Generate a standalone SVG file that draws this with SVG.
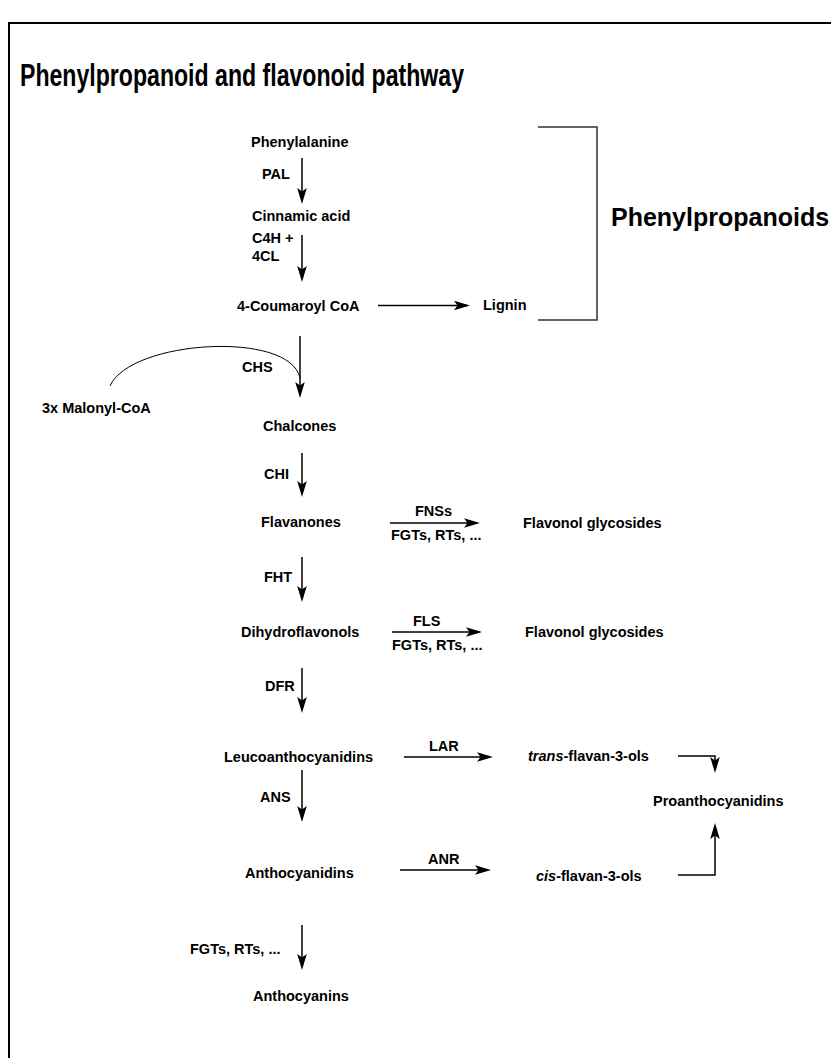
<svg xmlns="http://www.w3.org/2000/svg" width="831" height="1058" viewBox="0 0 831 1058">
<style>
text{font-family:"Liberation Sans",Arial,sans-serif;font-weight:bold;fill:#000}
.lbl{font-size:14.5px}
.title{font-size:31px}
.big{font-size:25px}
.ln{stroke:#000;stroke-width:1.5;fill:none}
.thin{stroke:#000;stroke-width:1;fill:none}
.br{stroke:#333;stroke-width:1.5;fill:none}
.frame{stroke:#000;stroke-width:2;fill:none}
</style>
<defs>
<marker id="ah" viewBox="-17 -5 18 10" markerWidth="18" markerHeight="10" refX="-3" refY="0" markerUnits="userSpaceOnUse" orient="auto">
<path d="M0,0 L-16,-4.8 L-12.5,0 L-16,4.8 Z" fill="#000"/>
</marker>
</defs>
<rect width="831" height="1058" fill="#fff"/>
<g id="frame">
<path class="frame" d="M9,1058 V23 H831"/>
</g>
<g id="title"><text class="title" x="20" y="86" textLength="444" lengthAdjust="spacingAndGlyphs">Phenylpropanoid and flavonoid pathway</text></g>

<g id="connectors">
<line class="ln" x1="302" y1="158" x2="302" y2="201" marker-end="url(#ah)"/>
<line class="ln" x1="302" y1="235" x2="302" y2="279" marker-end="url(#ah)"/>
<line class="ln" x1="378" y1="305.5" x2="467" y2="305.5" marker-end="url(#ah)"/>
<line class="ln" x1="300" y1="336" x2="300" y2="395" marker-end="url(#ah)"/>
<path class="thin" d="M110,386 C130,340 290,330 300,378"/>
<line class="ln" x1="302" y1="453" x2="302" y2="494" marker-end="url(#ah)"/>
<line class="ln" x1="390" y1="523" x2="477" y2="523" marker-end="url(#ah)"/>
<line class="ln" x1="302" y1="557" x2="302" y2="599" marker-end="url(#ah)"/>
<line class="ln" x1="392" y1="632" x2="479" y2="632" marker-end="url(#ah)"/>
<line class="ln" x1="302" y1="668" x2="302" y2="710" marker-end="url(#ah)"/>
<line class="ln" x1="404" y1="757" x2="490" y2="757" marker-end="url(#ah)"/>
<path class="ln" d="M678,756 H715 V770" marker-end="url(#ah)"/>
<line class="ln" x1="302" y1="770" x2="302" y2="819" marker-end="url(#ah)"/>
<line class="ln" x1="400" y1="870" x2="488" y2="870" marker-end="url(#ah)"/>
<path class="ln" d="M678,875 H715 V826" marker-end="url(#ah)"/>
<line class="ln" x1="302" y1="925" x2="302" y2="967" marker-end="url(#ah)"/>
</g>

<g id="phenylpropanoids-bracket">
<path class="br" d="M538,127 H597 V320 H538"/>
<text class="big" x="611" y="226">Phenylpropanoids</text>
</g>

<g id="n-phenylalanine"><text class="lbl" x="251" y="147">Phenylalanine</text></g>
<g id="e-pal"><text class="lbl" x="262" y="179">PAL</text></g>
<g id="n-cinnamic"><text class="lbl" x="252" y="221">Cinnamic acid</text></g>
<g id="e-c4h"><text class="lbl" x="252" y="243">C4H  +</text><text class="lbl" x="252" y="261">4CL</text></g>
<g id="n-coumaroyl"><text class="lbl" x="237" y="311">4-Coumaroyl CoA</text></g>
<g id="n-lignin"><text class="lbl" x="483" y="310">Lignin</text></g>
<g id="e-chs"><text class="lbl" x="242" y="372">CHS</text></g>
<g id="n-malonyl"><text class="lbl" x="42" y="413">3x Malonyl-CoA</text></g>
<g id="n-chalcones"><text class="lbl" x="263" y="431">Chalcones</text></g>
<g id="e-chi"><text class="lbl" x="264" y="479">CHI</text></g>
<g id="n-flavanones"><text class="lbl" x="261" y="527">Flavanones</text></g>
<g id="e-fnss"><text class="lbl" x="415" y="516">FNSs</text><text class="lbl" x="391" y="540">FGTs, RTs, ...</text></g>
<g id="n-flavonol1"><text class="lbl" x="523" y="528">Flavonol glycosides</text></g>
<g id="e-fht"><text class="lbl" x="264" y="582">FHT</text></g>
<g id="n-dihydro"><text class="lbl" x="241" y="637">Dihydroflavonols</text></g>
<g id="e-fls"><text class="lbl" x="413" y="626">FLS</text><text class="lbl" x="392" y="650">FGTs, RTs, ...</text></g>
<g id="n-flavonol2"><text class="lbl" x="525" y="637">Flavonol glycosides</text></g>
<g id="e-dfr"><text class="lbl" x="265" y="691">DFR</text></g>
<g id="n-leuco"><text class="lbl" x="224" y="762">Leucoanthocyanidins</text></g>
<g id="e-lar"><text class="lbl" x="429" y="751">LAR</text></g>
<g id="n-trans"><text class="lbl" x="528" y="761"><tspan font-style="italic">trans</tspan>-flavan-3-ols</text></g>
<g id="n-proantho"><text class="lbl" x="653" y="806">Proanthocyanidins</text></g>
<g id="e-ans"><text class="lbl" x="260" y="802">ANS</text></g>
<g id="n-anthocyanidins"><text class="lbl" x="245" y="878">Anthocyanidins</text></g>
<g id="e-anr"><text class="lbl" x="428" y="864">ANR</text></g>
<g id="n-cis"><text class="lbl" x="536" y="881"><tspan font-style="italic">cis</tspan>-flavan-3-ols</text></g>
<g id="e-fgts3"><text class="lbl" x="190" y="954">FGTs, RTs, ...</text></g>
<g id="n-anthocyanins"><text class="lbl" x="253" y="1001">Anthocyanins</text></g>
</svg>
